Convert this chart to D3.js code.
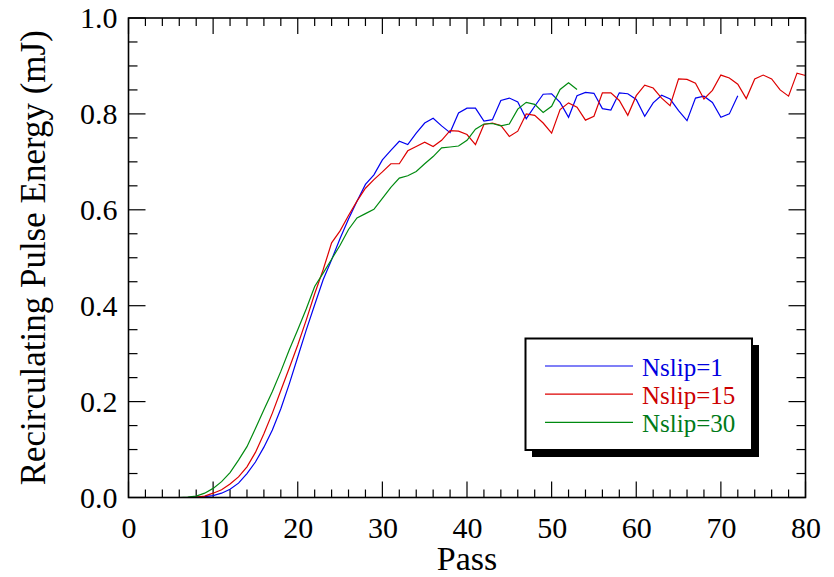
<!DOCTYPE html>
<html>
<head>
<meta charset="utf-8">
<script src="https://cdnjs.cloudflare.com/ajax/libs/d3/7.8.5/d3.min.js"></script>
<style>
    html, body { margin: 0; padding: 0; background: #fff; }
</style>
</head>
<body>
<svg id="chart" width="834" height="577"></svg>
<script>
    // energy per pass (mJ), starting at pass 1
    const nslip1 = [
        0, 0, 0, 0, 0, 0, 0, 0.001, 0.002, 0.004,
        0.009, 0.017, 0.030, 0.050, 0.074, 0.105, 0.141, 0.185, 0.237, 0.293,
        0.349, 0.402, 0.454, 0.496, 0.540, 0.581, 0.618, 0.653, 0.673, 0.704,
        0.724, 0.743, 0.736, 0.760, 0.781, 0.791, 0.775, 0.761, 0.802, 0.812,
        0.812, 0.785, 0.788, 0.828, 0.833, 0.825, 0.790, 0.816, 0.841, 0.842,
        0.824, 0.793, 0.838, 0.845, 0.843, 0.811, 0.808, 0.844, 0.842, 0.830,
        0.795, 0.823, 0.839, 0.831, 0.807, 0.786, 0.833, 0.837, 0.824, 0.793,
        0.800, 0.838
    ];
    const nslip15 = [
        0, 0, 0, 0, 0, 0, 0, 0.001, 0.003, 0.009,
        0.016, 0.028, 0.043, 0.064, 0.094, 0.133, 0.176, 0.223, 0.270, 0.318,
        0.370, 0.425, 0.475, 0.531, 0.556, 0.588, 0.618, 0.645, 0.663, 0.679,
        0.696, 0.696, 0.723, 0.732, 0.741, 0.732, 0.745, 0.765, 0.764, 0.757,
        0.736, 0.778, 0.781, 0.776, 0.753, 0.764, 0.800, 0.797, 0.781, 0.760,
        0.809, 0.823, 0.814, 0.787, 0.795, 0.844, 0.844, 0.828, 0.797, 0.838,
        0.860, 0.854, 0.833, 0.817, 0.873, 0.872, 0.864, 0.831, 0.849, 0.881,
        0.875, 0.862, 0.832, 0.873, 0.881, 0.873, 0.850, 0.837, 0.885, 0.880
    ];
    const nslip30 = [
        0, 0, 0, 0, 0, 0, 0.001, 0.003, 0.009, 0.019,
        0.033, 0.052, 0.078, 0.106, 0.144, 0.183, 0.221, 0.263, 0.308, 0.350,
        0.393, 0.440, 0.468, 0.497, 0.526, 0.559, 0.583, 0.592, 0.601, 0.624,
        0.647, 0.666, 0.671, 0.680, 0.696, 0.711, 0.729, 0.731, 0.733, 0.745,
        0.768, 0.779, 0.780, 0.775, 0.779, 0.810, 0.824, 0.820, 0.803, 0.816,
        0.851, 0.865, 0.851
    ];
    const seriesNames = ["Nslip=1", "Nslip=15", "Nslip=30"];
    const seriesColors = ["#0000f0", "#dd0000", "#008a10"];
    const textColors = ["#0000e0", "#cc0000", "#007a18"];
    const xTicks = [0, 10, 20, 30, 40, 50, 60, 70, 80];
    const yTicks = [0, 0.2, 0.4, 0.6, 0.8, 1.0];

    const serif = "'Liberation Serif', 'DejaVu Serif', serif";
    const svg = d3.select("#chart");
    const plotLeft = 128.5, plotRight = 805.5, plotTop = 18, plotBottom = 497.5;

    const x = d3.scaleLinear().domain([0, 80]).range([plotLeft, plotRight]);
    const y = d3.scaleLinear().domain([0, 1]).range([plotBottom, plotTop]);

    // tick marks (inward, on all four sides)
    const xMinor = d3.range(0, 81, 2);
    const yMinor = d3.range(0, 1.0001, 0.05);
    const ticks = svg.append("g").attr("stroke", "#000").attr("stroke-width", 1.2);
    xMinor.forEach(v => {
        const len = v % 10 === 0 ? 16 : 8;
        ticks.append("line").attr("x1", x(v)).attr("x2", x(v)).attr("y1", plotBottom).attr("y2", plotBottom - len);
        ticks.append("line").attr("x1", x(v)).attr("x2", x(v)).attr("y1", plotTop).attr("y2", plotTop + len);
    });
    yMinor.forEach((v, i) => {
        const len = i % 4 === 0 ? 17 : 9;
        ticks.append("line").attr("y1", y(v)).attr("y2", y(v)).attr("x1", plotLeft).attr("x2", plotLeft + len);
        ticks.append("line").attr("y1", y(v)).attr("y2", y(v)).attr("x1", plotRight).attr("x2", plotRight - len);
    });

    // tick labels through d3 axes
    const xAxis = d3.axisBottom(x).tickValues(xTicks).tickFormat(d3.format("d")).tickSize(0).tickPadding(19);
    svg.append("g")
        .attr("transform", `translate(0,${plotBottom})`)
        .call(xAxis)
        .call(g => g.select(".domain").remove())
        .selectAll("text")
        .style("font-family", serif)
        .style("font-size", "30px")
        .attr("fill", "#000");

    const yAxis = d3.axisLeft(y).tickValues(yTicks).tickFormat(d3.format(".1f")).tickSize(0).tickPadding(11);
    svg.append("g")
        .attr("transform", `translate(${plotLeft},0)`)
        .call(yAxis)
        .call(g => g.select(".domain").remove())
        .selectAll("text")
        .style("font-family", serif)
        .style("font-size", "30px")
        .attr("fill", "#000");

    // series
    const line = d3.line()
        .x((d, i) => x(i + 1))
        .y(d => y(d));

    [nslip1, nslip15, nslip30].forEach((values, k) => {
        svg.append("path")
            .datum(values)
            .attr("fill", "none")
            .attr("stroke", seriesColors[k])
            .attr("stroke-width", 1.2)
            .attr("d", line);
    });

    // frame
    svg.append("rect")
        .attr("x", plotLeft).attr("y", plotTop)
        .attr("width", plotRight - plotLeft).attr("height", plotBottom - plotTop)
        .attr("fill", "none").attr("stroke", "#000").attr("stroke-width", 1.6);

    // axis titles
    svg.append("text")
        .attr("x", (plotLeft + plotRight) / 2).attr("y", 569.5)
        .attr("text-anchor", "middle")
        .style("font-family", serif)
        .style("font-size", "34px")
        .text("Pass");

    svg.append("text")
        .attr("transform", `translate(45,${(plotTop + plotBottom) / 2}) rotate(-90)`)
        .attr("text-anchor", "middle")
        .style("font-family", serif)
        .style("font-size", "35px")
        .text("Recirculating Pulse Energy (mJ)");

    // legend with drop shadow
    const legend = svg.append("g");
    legend.append("rect")
        .attr("x", 532).attr("y", 345).attr("width", 227).attr("height", 112)
        .attr("fill", "#000");
    legend.append("rect")
        .attr("x", 525.5).attr("y", 338.5).attr("width", 226.5).attr("height", 111.5)
        .attr("fill", "#fff").attr("stroke", "#000").attr("stroke-width", 2);

    seriesNames.forEach((name, k) => {
        const ly = 366 + k * 28.2;
        legend.append("line")
            .attr("x1", 545).attr("x2", 633)
            .attr("y1", ly).attr("y2", ly)
            .attr("stroke", seriesColors[k]).attr("stroke-width", 1.2);
        legend.append("text")
            .attr("x", 642).attr("y", ly + 9.5)
            .style("font-family", serif)
            .style("font-size", "25px")
            .attr("fill", textColors[k])
            .text(name);
    });
</script>
</body>
</html>
